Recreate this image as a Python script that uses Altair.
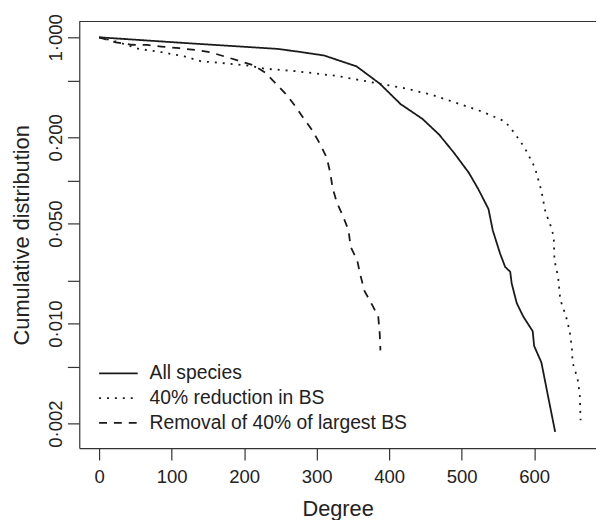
import altair as alt
import pandas as pd

series_names = ["All species", "40% reduction in BS", "Removal of 40% of largest BS"]

all_deg = [0, 123, 246, 273, 310, 355, 387, 416, 446, 469, 489, 510, 523, 537, 543, 553, 560, 567, 569, 576, 585, 598, 600, 610, 619, 629]
all_cum = [1.0, 0.909, 0.830, 0.796, 0.747, 0.627, 0.475, 0.341, 0.269, 0.209, 0.157, 0.113, 0.0869, 0.0632, 0.0447, 0.0309, 0.0249, 0.0230, 0.0191, 0.0139, 0.0112, 0.00885, 0.00697, 0.00535, 0.00314, 0.00175]

red_deg = [0, 27, 55, 86, 118, 141, 164, 205, 228, 273, 328, 386, 423, 460, 492, 528, 560, 573, 587, 601, 610, 616, 621, 627, 628, 633, 636, 644, 649, 652, 653, 660, 663, 664]
red_cum = [1.0, 0.923, 0.830, 0.787, 0.735, 0.679, 0.666, 0.635, 0.604, 0.579, 0.537, 0.475, 0.439, 0.395, 0.349, 0.303, 0.258, 0.214, 0.169, 0.123, 0.0846, 0.0584, 0.0516, 0.0406, 0.0277, 0.0212, 0.0147, 0.0112, 0.00885, 0.00679, 0.00535, 0.00410, 0.00314, 0.00211]

rem_deg = [0, 23, 45, 66, 86, 111, 132, 153, 173, 191, 213, 229, 246, 259, 271, 282, 294, 305, 314, 319, 322, 328, 337, 344, 347, 356, 360, 366, 377, 385, 387, 388]
rem_cum = [1.0, 0.923, 0.887, 0.885, 0.862, 0.839, 0.817, 0.787, 0.735, 0.690, 0.637, 0.568, 0.463, 0.395, 0.328, 0.272, 0.224, 0.179, 0.144, 0.112, 0.0887, 0.0699, 0.0553, 0.0448, 0.0343, 0.0277, 0.0222, 0.0169, 0.0134, 0.0112, 0.00861, 0.00650]

x_ticks = [0, 100, 200, 300, 400, 500, 600]
y_ticks = [1, 0.5, 0.2, 0.1, 0.05, 0.02, 0.01, 0.005, 0.002]
y_labelled = [1, 0.2, 0.05, 0.01, 0.002]

rows = []
for name, degs, cums in zip(series_names, [all_deg, red_deg, rem_deg], [all_cum, red_cum, rem_cum]):
    for i, (d, c) in enumerate(zip(degs, cums)):
        rows.append({"series": name, "degree": d, "cum": c, "idx": i})
df = pd.DataFrame(rows)

W, H = 522, 431
ink = "#1a1a1a"
font = "Liberation Sans"

cond = " || ".join(f"datum.value == {v}" for v in y_labelled)
y_label_expr = f"({cond}) ? replace(format(datum.value, '.3f'), '.', '\u00b7') : ''"

lines = alt.Chart(df).mark_line(color=ink, strokeWidth=1.8, clip=True).encode(
    x=alt.X("degree:Q",
            scale=alt.Scale(domain=[-27.3, 685.3], nice=False, zero=False),
            axis=alt.Axis(values=x_ticks, title="Degree", labelPadding=8,
                          labelFlush=False, labelOverlap=False,
                          titleY=68.5, titleBaseline="alphabetic")),
    y=alt.Y("cum:Q",
            scale=alt.Scale(type="log", domain=[0.001349, 1.29], nice=False),
            axis=alt.Axis(values=y_ticks, labelExpr=y_label_expr,
                          title="Cumulative distribution",
                          labelAngle=270, labelAlign="center", labelBaseline="alphabetic",
                          labelPadding=6, labelFlush=False, labelOverlap=False,
                          titleAngle=270, titleX=-51.7, titleY=H / 2,
                          titleAlign="center", titleBaseline="alphabetic")),
    strokeDash=alt.StrokeDash("series:N",
                              scale=alt.Scale(domain=series_names,
                                              range=[[1, 0], [2, 6], [8, 7]]),
                              legend=alt.Legend(title=None, orient="none",
                                                legendX=19, legendY=343)),
    order="idx:Q",
)

top = alt.Chart(pd.DataFrame({"a": [0]})).mark_rule(color="#333333", strokeWidth=1.2).encode(
    x=alt.value(0), x2=alt.value(W), y=alt.value(0)
)

chart = alt.layer(lines, top).properties(
    width=W, height=H,
    autosize=alt.AutoSizeParams(type="none"),
    padding={"left": 72, "top": 11, "right": 0, "bottom": 70},
).configure_view(stroke=None).configure_axis(
    grid=False,
    domainColor="#333333", domainWidth=1.2,
    tickColor="#333333", tickWidth=1.2, tickSize=12,
    labelFont=font, labelFontSize=18.7, labelColor="#222222",
    titleFont=font, titleFontSize=22, titleFontWeight="normal", titleColor="#222222",
).configure_legend(
    labelFont=font, labelFontSize=19.5, labelColor="#222222",
    symbolType="stroke", symbolSize=1521, symbolStrokeWidth=1.8,
    symbolStrokeColor=ink, labelOffset=11, clipHeight=25, rowPadding=0,
    padding=0, symbolOffset=0, labelLimit=400,
)

chart.save("out.html", embed_options={"renderer": "svg", "actions": False})
